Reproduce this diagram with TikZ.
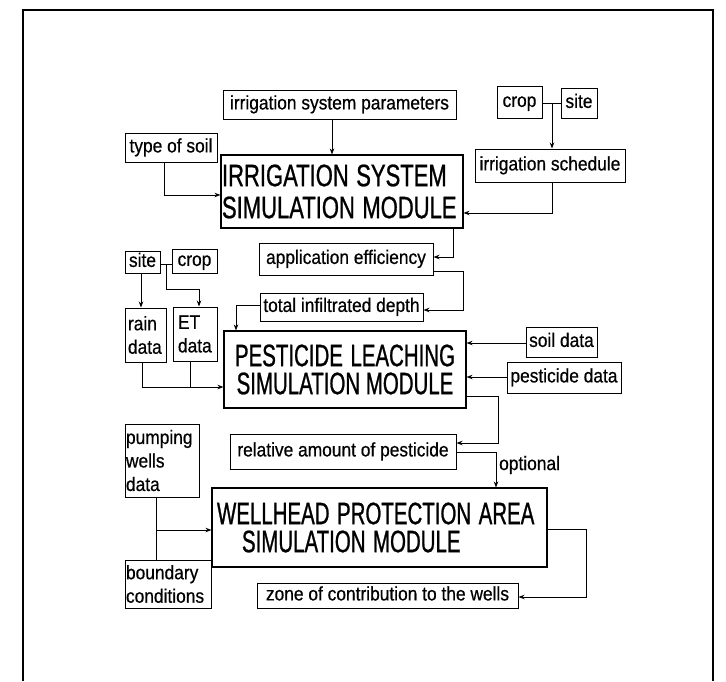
\documentclass[tikz,border=0pt]{standalone}
\usepackage{fontspec}
\setmainfont{Liberation Sans}[FakeStretch=0.89,FakeBold=0.6]
\newfontfamily\bigf{Liberation Sans}[FakeStretch=0.66,FakeBold=0.8]
\newfontfamily\bigfw{Liberation Sans}[FakeStretch=0.71,FakeBold=0.8]
\usetikzlibrary{arrows.meta}
\tikzset{
  box/.style={draw, line width=1pt, inner sep=0pt, font=\fontsize{19.5}{23.5}\selectfont},
  one/.style={box, text height=14pt, text depth=4.2pt},
  lbox/.style={box, align=left},
  module/.style={draw, line width=1.1pt, inner sep=0pt},
  conn/.style={line width=0.8pt},
  arr/.style={conn, -{Stealth[length=6pt,width=4.5pt]}},
  lab/.style={inner sep=0pt, font=\fontsize{19.5}{23.5}\selectfont},
}
\newcommand\bx[7][one]{\node[#1,minimum width={(#5-#3)*1pt},minimum height={(#6-#4)*1pt}] (#2) at ({(#3+#5)/2},{(#4+#6)/2}) {#7};}
\newcommand\tightsp{\spaceskip=7.5pt\relax}
\begin{document}
\begin{tikzpicture}[x=1pt,y=-1pt]
\useasboundingbox (0,0) rectangle (726,681);
% frame
\draw[line width=1.2pt] (23,681) -- (23,10) -- (713,10);
\draw[line width=2.5pt] (713,9) -- (713,681);

% boxes
\bx{isp}{223}{90}{456}{119}{irrigation system parameters}
\bx{crop1}{497}{86}{542}{118}{crop}
\bx{site1}{561}{88}{597}{118}{site}
\bx{soil}{125}{133}{217}{162}{type of soil}
\bx{sched}{475}{149}{625}{182}{irrigation schedule}
\node[module, minimum width=242pt, minimum height=73pt, text width=240pt, align=left,
      font={\bigfw\fontsize{31}{32}\selectfont}] (irr) at (342,191.5) {\tightsp IRRIGATION SYSTEM\\SIMULATION MODULE};
\bx{appeff}{259}{243}{433}{275}{application efficiency}
\bx{site2}{125}{251}{160}{273}{site}
\bx{crop2}{172}{249}{217}{273}{crop}
\bx{tid}{260}{293}{423}{321}{total infiltrated depth}
\bx[lbox, text width=35pt]{rain}{125}{308}{166}{362}{rain\\data}
\bx[lbox, text width=34pt]{et}{173}{307}{217}{361}{ET\\data}
\node[module, minimum width=242pt, minimum height=77pt, align=center,
      font={\bigf\fontsize{31}{28}\selectfont}] (pest) at (345,369.5) {\tightsp PESTICIDE LEACHING\\SIMULATION MODULE};
\bx{soild}{526}{327}{597}{357}{soil data}
\bx{pestd}{507}{362}{621}{393}{pesticide data}
\bx[lbox, text width=72pt]{pump}{125}{424}{199}{497}{pumping\\wells\\data}
\bx{rel}{230}{434}{456}{469}{relative amount of pesticide}
\node[module, minimum width=335pt, minimum height=79pt, text width=325pt, align=left,
      font={\bigf\fontsize{31}{28}\selectfont}] (well) at (379.5,527.5) {\tightsp WELLHEAD PROTECTION AREA\\\hspace*{25pt}SIMULATION MODULE};
\bx[lbox, text width=84pt]{bound}{125}{560}{211}{608}{boundary\\conditions}
\bx{zone}{257}{583}{518}{608}{zone of contribution to the wells}

% connectors
\coordinate (xa) at (332,0);
\draw[arr] (isp.south -| xa) -- (irr.north -| xa);
\coordinate (pa) at (164,195);
\draw[arr] (soil.south -| pa) |- (irr.west |- pa);
\coordinate (j1) at (552,103);
\draw[conn] (crop1.east |- j1) -- (site1.west |- j1);
\draw[arr] (j1) -- (sched.north -| j1);
\coordinate (pb) at (552,213);
\draw[arr] (sched.south -| pb) |- (irr.east |- pb);
\coordinate (pc) at (453,257);
\draw[arr] (irr.south -| pc) |- (appeff.east |- pc);
\coordinate (pd) at (463,271);
\coordinate (pe) at (463,310);
\draw[arr] (appeff.east |- pd) -- (pd) -- (pe) -- (tid.east |- pe);
\coordinate (pf) at (236,305);
\draw[arr] (tid.west |- pf) -| (pest.north -| pf);
\coordinate (j2) at (166,264);
\draw[conn] (site2.east |- j2) -- (crop2.west |- j2);
\coordinate (xb) at (141,0);
\draw[arr] (site2.south -| xb) -- (rain.north -| xb);
\coordinate (pg) at (199,289);
\draw[arr] (j2) |- (pg) -- (et.north -| pg);
\coordinate (ph) at (142,387);
\coordinate (xc) at (190,0);
\draw[arr] (rain.south -| ph) |- (pest.west |- ph);
\draw[conn] (et.south -| xc) -- (xc |- ph);
\coordinate (pi) at (0,343);
\draw[arr] (soild.west |- pi) -- (pest.east |- pi);
\coordinate (pj) at (0,377);
\draw[arr] (pestd.west |- pj) -- (pest.east |- pj);
\coordinate (pk) at (498,396);
\coordinate (pl) at (498,443);
\draw[arr] (pest.east |- pk) -- (pk) -- (pl) -- (rel.east |- pl);
\coordinate (pm) at (496,452);
\draw[arr] (rel.east |- pm) -| (well.north -| pm);
\node[lab, anchor=west] (opt) at (499,465) {optional};
\coordinate (pn) at (156,530);
\draw[conn] (pump.south -| pn) -- (bound.north -| pn);
\draw[arr] (pn) -- (well.west |- pn);
\coordinate (po) at (586,529);
\coordinate (pp) at (586,597);
\draw[arr] (well.east |- po) -- (po) -- (pp) -- (zone.east |- pp);
\end{tikzpicture}
\end{document}
